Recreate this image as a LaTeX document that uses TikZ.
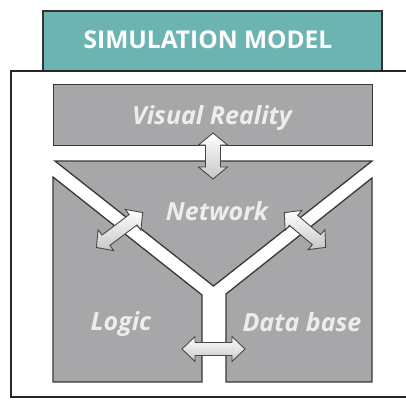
\documentclass[tikz,border=0pt]{standalone}
\usepackage{fontspec}
\setmainfont{Open Sans}
\begin{document}
\begin{tikzpicture}[x=1pt,y=-1pt,
  panel/.style={fill=panelgray,draw=black!78,line width=1.3pt,line join=miter},
  arrowbody/.style={draw=black!72,line width=0.9pt,line join=miter,top color=white,bottom color=black!22},
  lbl/.style={text=white!93!black,font=\bfseries\itshape\fontsize{25}{28}\selectfont,inner sep=0pt,anchor=base},
  pics/dblarr/.style n args={4}{code={%
    \path[arrowbody] (-#1,0) -- (-#1+#4,-#2) -- (-#1+#4,-#3) -- (#1-#4,-#3) -- (#1-#4,-#2) -- (#1,0)
      -- (#1-#4,#2) -- (#1-#4,#3) -- (-#1+#4,#3) -- (-#1+#4,#2) -- cycle;}}]
\definecolor{panelgray}{HTML}{A7A7AA}
\definecolor{teal1}{HTML}{6BB4B1}
\useasboundingbox (0,0) rectangle (406,399);
\fill[white] (0,0) rectangle (406,399);
% title tab
\node[draw=black!80,line width=1.5pt,fill=teal1,minimum width=339pt,minimum height=60pt,anchor=north west,inner sep=0pt] (title) at (42,10) {};
\node[text=white,font=\bfseries\fontsize{24.5}{28}\selectfont,inner sep=0pt,anchor=base] (titletext) at (208,48) {SIMULATION MODEL};
% outer frame (open on the right)
\draw[black!85,line width=1.6pt] (412,71) -- (11,71) -- (11,397) -- (412,397);
% panels
\node[panel,minimum width=319pt,minimum height=61pt,anchor=north west,inner sep=0pt] (vr) at (53,84) {};
\node[lbl] (vrtext) at (212,124) {Visual Reality};
\path[panel] (55,161) -- (372,161) -- (213.5,286) -- cycle;
\node[lbl] (net) at (217,220) {Network};
\path[panel] (53,177) -- (202,295) -- (202,382) -- (53,382) -- cycle;
\node[lbl] (logic) at (121,330) {Logic};
\path[panel] (372,178) -- (226,294) -- (226,382) -- (372,382) -- cycle;
\node[lbl] (db) at (302,331) {Data base};
% block arrows
\coordinate (a1) at (213,156);
\coordinate (a2) at (119.5,230);
\coordinate (a3) at (305,230);
\coordinate (a4) at (213.5,349);
\pic[rotate=90] at (a1) {dblarr={23}{14.5}{7.5}{12}};
\pic[rotate=37] at (a2) {dblarr={29}{13}{6.5}{12}};
\pic[rotate=-40] at (a3) {dblarr={27}{13}{6.5}{12}};
\pic at (a4) {dblarr={31.5}{12.5}{6.5}{13}};
\end{tikzpicture}
\end{document}
